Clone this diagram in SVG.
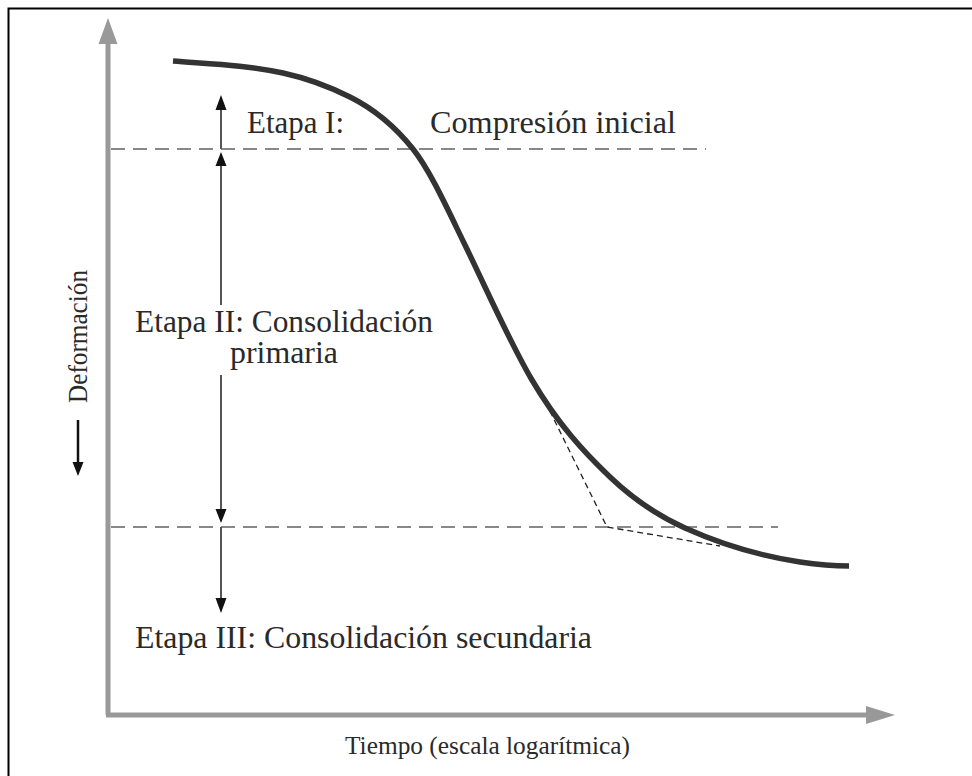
<svg xmlns="http://www.w3.org/2000/svg" width="972" height="776" viewBox="0 0 972 776">
<style>
.lbl{font-family:"Liberation Serif","Times New Roman",serif;fill:#2a2a2a}
.stage{font-size:32px}
.axisln{stroke:#999;stroke-width:5;fill:none}
.grid{stroke:#888;stroke-width:1.8;stroke-dasharray:14 8;fill:none}
.tan{stroke:#222;stroke-width:1.3;stroke-dasharray:6 4;fill:none}
.dim{stroke:#555;stroke-width:2;fill:none}
.head{fill:#111}
</style>
<rect x="0" y="0" width="972" height="776" fill="#fff"/>
<rect id="frame" x="8.5" y="8.5" width="1000" height="800" fill="none" stroke="#000" stroke-width="2"/>
<g id="axes">
<line class="axisln" x1="108" y1="40" x2="108" y2="715"/>
<polygon points="108,18 98.5,44 117.5,44" fill="#999"/>
<line class="axisln" x1="106" y1="715" x2="870" y2="715"/>
<polygon points="895,715 866,706 866,724" fill="#999"/>
</g>
<g id="connectors">
<line class="grid" x1="111" y1="149" x2="706" y2="149"/>
<line class="grid" x1="111" y1="527" x2="778" y2="527"/>
<polyline class="tan" points="541,393 607,527 720,546"/>
<line class="dim" x1="221" y1="149" x2="221" y2="106"/>
<polygon class="head" points="221,95 215.5,110 226.5,110"/>
<line class="dim" x1="221" y1="160" x2="221" y2="305"/>
<line class="dim" x1="221" y1="375" x2="221" y2="515"/>
<polygon class="head" points="221,152 215.5,166 226.5,166"/>
<polygon class="head" points="221,523 215.5,509 226.5,509"/>
<line class="dim" x1="221" y1="527" x2="221" y2="604"/>
<polygon class="head" points="221,613 215.5,598 226.5,598"/>
<line x1="78" y1="420" x2="78" y2="465" stroke="#111" stroke-width="2.5"/>
<polygon class="head" points="78,476 72.5,462 83.5,462"/>
</g>
<g id="curve">
<path d="M173,61 C209.7,63.9 246.3,64.9 283,73 C305.3,77.9 327.7,85.8 350,97 C371,107.5 392,122.7 413,149 C430.3,170.7 447.7,209.5 465,245 C487.3,290.8 509.7,342.1 532,380 C558,424.2 584,452.3 610,477 C635,500.75 660,516.75 685,528 C723.3,545.2 761.7,556.25 800,562 C816.3,564.45 832.7,566 849,566" fill="none" stroke="#333" stroke-width="5.5"/>
</g>
<g id="labels">
<text class="lbl stage" x="247" y="133" textLength="97" lengthAdjust="spacingAndGlyphs">Etapa I:</text>
<text class="lbl stage" x="430" y="133" textLength="246" lengthAdjust="spacingAndGlyphs">Compresión inicial</text>
<text class="lbl stage" x="135" y="332" textLength="298" lengthAdjust="spacingAndGlyphs">Etapa II: Consolidación</text>
<text class="lbl stage" x="230" y="363" textLength="108" lengthAdjust="spacingAndGlyphs">primaria</text>
<text class="lbl stage" x="135" y="648" textLength="457" lengthAdjust="spacingAndGlyphs">Etapa III: Consolidación secundaria</text>
<text class="lbl" x="345" y="754" font-size="26" textLength="285" lengthAdjust="spacingAndGlyphs">Tiempo (escala logarítmica)</text>
<text class="lbl" transform="translate(87,403) rotate(-90)" x="0" y="0" font-size="27" textLength="133" lengthAdjust="spacingAndGlyphs">Deformación</text>
</g>
</svg>
